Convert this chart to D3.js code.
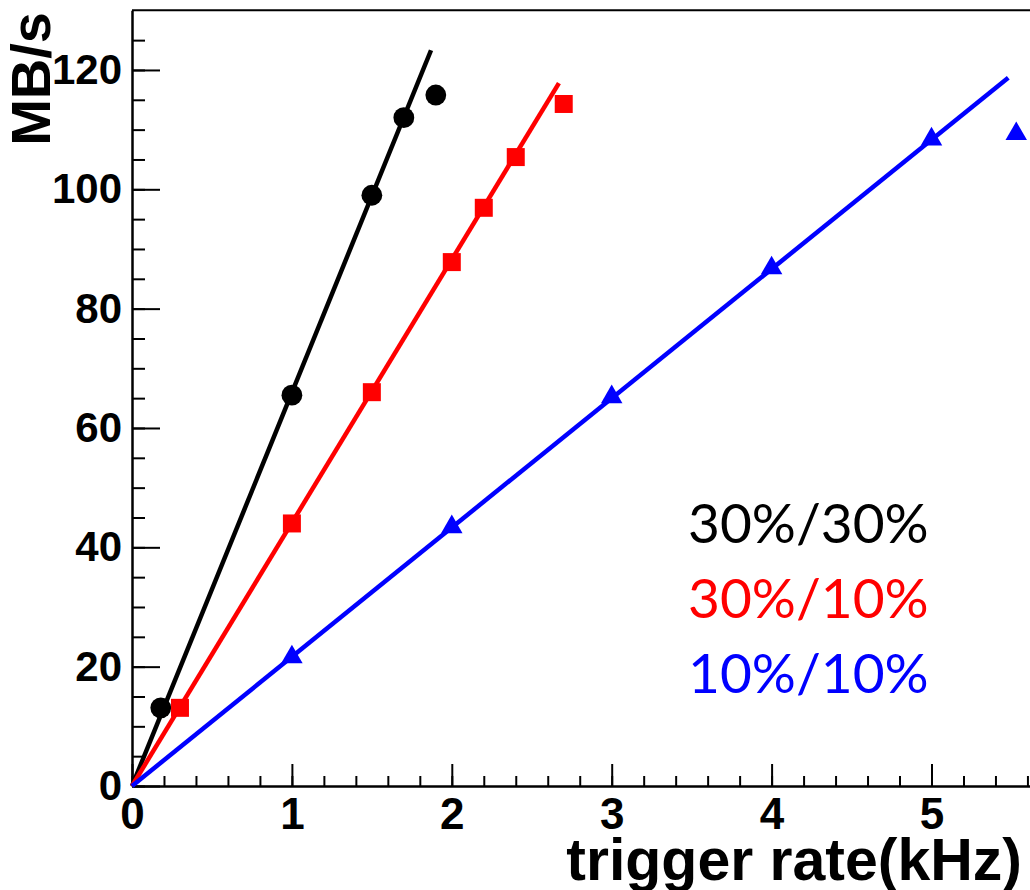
<!DOCTYPE html>
<html>
<head>
<meta charset="utf-8">
<script src="https://cdn.jsdelivr.net/npm/d3@7"></script>
<style>
  body { margin: 0; background: #fff; }
  .axis text { font-family: "Liberation Sans", Arial, sans-serif; font-weight: bold; fill: #000; }
  .legend text { font-family: Lato, "Open Sans", sans-serif; }
</style>
</head>
<body>
<script>
// data (x = trigger rate in kHz, y = MB/s)
var black_x = [0.18, 1.0, 1.5, 1.7, 1.9]
var black_y = [13.1, 65.5, 99, 112, 115.8]
var red_x = [0.3, 1.0, 1.5, 2.0, 2.2, 2.4, 2.7]
var red_y = [13.1, 44, 66, 87.8, 96.9, 105.4, 114.3]
var blue_x = [1.0, 2.0, 3.0, 4.0, 5.0, 5.53]
var blue_y = [21.6, 43.4, 65.2, 86.8, 108.4, 109.3]

// fitted lines, start and end point
var black_fit = [[0, 0], [1.87, 123.3]]
var red_fit = [[0, 0], [2.67, 117.8]]
var blue_fit = [[0, 0], [5.48, 118.7]]

var legend_labels = ["30%/30%", "30%/10%", "10%/10%"]
var legend_colors = ["#000000", "#ff0000", "#0000ff"]

var x_ticks = [0, 1, 2, 3, 4, 5]
var y_ticks = [0, 20, 40, 60, 80, 100, 120]

var width = 1030
var height = 890

var svg = d3.select("body").append("svg")
    .attr("width", width)
    .attr("height", height)

var x = d3.scaleLinear().domain([0, 6]).range([132, 132 + 6 * 159.9])
var y = d3.scaleLinear().domain([0, 130]).range([786, 786 - 130 * 5.967])

// frame top
svg.append("line")
    .attr("x1", x(0)).attr("x2", width)
    .attr("y1", y(130)).attr("y2", y(130))
    .attr("stroke", "#000").attr("stroke-width", 2)

// minor ticks first
svg.append("g")
    .attr("transform", "translate(" + x(0) + ",0)")
    .call(d3.axisLeft(y).tickValues(d3.range(0, 130, 5)).tickSize(-13).tickFormat(""))
    .call(g => g.select(".domain").remove())
    .selectAll("line").attr("stroke-width", 2)

svg.append("g")
    .attr("transform", "translate(0," + y(0) + ")")
    .call(d3.axisBottom(x).tickValues(d3.range(0, 5.7, 0.2)).tickSize(-10).tickFormat(""))
    .call(g => g.select(".domain").remove())
    .selectAll("line").attr("stroke-width", 2)

// major ticks + labels
var yAxis = svg.append("g")
    .attr("class", "axis")
    .attr("transform", "translate(" + x(0) + ",0)")
    .call(d3.axisLeft(y).tickValues(y_ticks).tickSize(-28).tickPadding(10).tickSizeOuter(0))
yAxis.select(".domain").attr("stroke-width", 2.5)
yAxis.selectAll("line").attr("stroke-width", 2)
yAxis.selectAll("text").style("font-size", "42px")

var xAxis = svg.append("g")
    .attr("class", "axis")
    .attr("transform", "translate(0," + y(0) + ")")
    .call(d3.axisBottom(x).tickValues(x_ticks).tickFormat(d3.format("d"))
        .tickSize(-22).tickPadding(12).tickSizeOuter(0))
xAxis.select(".domain").attr("stroke-width", 2.5)
xAxis.selectAll("line").attr("stroke-width", 2)
xAxis.selectAll("text").style("font-size", "44px")

// axis titles
svg.append("text")
    .attr("x", 1022).attr("y", 880)
    .attr("text-anchor", "end")
    .style("font-family", "'Liberation Sans', Arial, sans-serif")
    .style("font-weight", "bold")
    .style("font-size", "59px")
    .text("trigger rate(kHz)")

svg.append("text")
    .attr("transform", "translate(50,12) rotate(-90)")
    .attr("text-anchor", "end")
    .style("font-family", "'Liberation Sans', Arial, sans-serif")
    .style("font-weight", "bold")
    .style("font-size", "56px")
    .text("MB/s")

var line = d3.line()
    .x(function (d) { return x(d[0]) })
    .y(function (d) { return y(d[1]) })

function drawSeries(xs, ys, fit, color, symbol, size) {
    svg.append("path")
        .attr("d", line(fit))
        .attr("fill", "none")
        .attr("stroke", color)
        .attr("stroke-width", 4.5)

    svg.selectAll(null)
        .data(xs)
        .enter()
        .append("path")
        .attr("transform", function (d, i) { return "translate(" + x(d) + "," + y(ys[i]) + ")" })
        .attr("d", d3.symbol().type(symbol).size(size))
        .attr("fill", color)
}

drawSeries(black_x, black_y, black_fit, legend_colors[0], d3.symbolCircle, 340)
drawSeries(red_x, red_y, red_fit, legend_colors[1], d3.symbolSquare, 324)
drawSeries(blue_x, blue_y, blue_fit, legend_colors[2], d3.symbolTriangle, 200)

// legend text
var legend = svg.append("g").attr("class", "legend")
legend.selectAll("text")
    .data(legend_labels)
    .enter()
    .append("text")
    .attr("x", 688)
    .attr("y", function (d, i) { return 543 + i * 75 })
    .attr("fill", function (d, i) { return legend_colors[i] })
    .style("font-size", "55px")
    .text(function (d) { return d })
</script>
</body>
</html>
